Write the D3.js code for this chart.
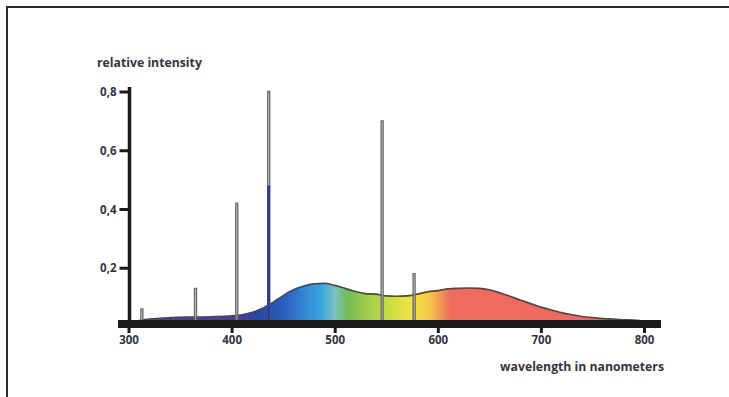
<!DOCTYPE html>
<html>
<head>
<meta charset="utf-8">
<script src="https://cdn.jsdelivr.net/npm/d3@7"></script>
<style>
  html, body { margin: 0; padding: 0; background: #fff; }
  svg { display: block; }
  text { font-family: "Open Sans", Lato, sans-serif; font-weight: 700; fill: #34343f; }
</style>
</head>
<body>
<svg id="chart" width="729" height="397"></svg>
<script>
// ---- data ----
const wavelengths = [310, 320, 340, 360, 380, 400, 410, 420, 430, 440, 450, 460, 470, 480, 490,
  500, 510, 520, 530, 540, 550, 560, 570, 580, 590, 600, 610, 620, 630, 640, 650, 660, 670, 680,
  690, 700, 710, 720, 730, 740, 750, 760, 770, 780, 790, 796];
const intensity = [0.02, 0.025, 0.03, 0.032, 0.033, 0.036, 0.04, 0.048, 0.062, 0.082, 0.105, 0.125,
  0.138, 0.145, 0.147, 0.14, 0.13, 0.119, 0.112, 0.11, 0.104, 0.103, 0.104, 0.11, 0.118, 0.122,
  0.128, 0.13, 0.131, 0.13, 0.125, 0.115, 0.103, 0.09, 0.078, 0.066, 0.056, 0.047, 0.04, 0.034,
  0.03, 0.027, 0.025, 0.023, 0.022, 0.02];
const lineWavelengths = [313, 365, 405, 436, 546, 577];
const linePeaks = [0.06, 0.13, 0.42, 0.80, 0.70, 0.18];
const blueLineWavelength = 436;
const blueLinePeak = 0.48;
const xTicks = [300, 400, 500, 600, 700, 800];
const yTicks = [0.2, 0.4, 0.6, 0.8];
const yTickLabels = ["0,2", "0,4", "0,6", "0,8"];
const yTitle = "relative intensity";
const xTitle = "wavelength in nanometers";

// colour stops of the visible spectrum (wavelength, colour)
const stopWl = [300, 400, 425, 450, 470, 488, 500, 512, 530, 552, 575, 592, 602, 612, 800];
const stopCol = ["#5a3c8c", "#4a3f98", "#2a46a6", "#2a5cbc", "#3585d4", "#3ca6df", "#7cc3c6",
  "#72bb5c", "#9ccb4c", "#c8dc46", "#f2e343", "#f4c84a", "#f29c52", "#ee6d5e", "#ee6760"];

// ---- layout ----
const svg = d3.select("#chart");
const x = d3.scaleLinear().domain([300, 800]).range([128.5, 644]);
const y = d3.scaleLinear().domain([0, 0.8]).range([326.5, 91.5]);

function fitWidth(sel, target) {
  const node = sel.node();
  const fs = parseFloat(sel.attr("font-size"));
  const w = node.getComputedTextLength();
  if (w > 0) sel.attr("font-size", (fs * target / w).toFixed(2));
}

// frame
svg.append("line").attr("x1", 6).attr("x2", 729).attr("y1", 7).attr("y2", 7)
  .attr("stroke", "#2a2a2a").attr("stroke-width", 2);
svg.append("line").attr("x1", 7).attr("x2", 7).attr("y1", 6).attr("y2", 397)
  .attr("stroke", "#2a2a2a").attr("stroke-width", 2);

// gradient
const defs = svg.append("defs");
const grad = defs.append("linearGradient").attr("id", "spec")
  .attr("gradientUnits", "userSpaceOnUse")
  .attr("x1", x(300)).attr("x2", x(800)).attr("y1", 0).attr("y2", 0);
stopWl.forEach((w, i) => {
  grad.append("stop").attr("offset", (w - 300) / 500).attr("stop-color", stopCol[i]);
});

const pts = wavelengths.map((w, i) => [w, intensity[i]]);
const area = d3.area().x(d => x(d[0])).y0(y(0)).y1(d => y(d[1])).curve(d3.curveMonotoneX);
const line = d3.line().x(d => x(d[0])).y(d => y(d[1])).curve(d3.curveMonotoneX);

svg.append("path").datum(pts).attr("d", area).attr("fill", "url(#spec)");
svg.append("path").datum(pts).attr("d", line).attr("fill", "none")
  .attr("stroke", "#4a4a4a").attr("stroke-width", 1.7);

// emission lines
lineWavelengths.forEach((w, i) => {
  const p = linePeaks[i];
  const hw = 1.0;
  const path = d3.path();
  path.moveTo(x(w - hw), y(0));
  path.lineTo(x(w - hw), y(p));
  path.lineTo(x(w + hw), y(p));
  path.lineTo(x(w + hw), y(0));
  svg.append("path").attr("d", path.toString())
    .attr("fill", "#b8b8b8").attr("fill-opacity", 0.7)
    .attr("stroke", "#6a6a6a").attr("stroke-width", 1.3);
});
// blue core of the 436 nm line
svg.append("rect")
  .attr("x", x(blueLineWavelength - 1.4)).attr("width", x(blueLineWavelength + 1.4) - x(blueLineWavelength - 1.4))
  .attr("y", y(blueLinePeak)).attr("height", y(0) - y(blueLinePeak))
  .attr("fill", "#2c3f8e");

// y axis
const yAxis = d3.axisLeft(y).tickValues(yTicks).tickFormat((d, i) => yTickLabels[i])
  .tickSize(10).tickPadding(3);
const gy = svg.append("g").attr("transform", "translate(129.5,0)").call(yAxis);
gy.select(".domain").remove();
gy.selectAll(".tick line").attr("stroke", "#1a1a1a").attr("stroke-width", 3);
gy.selectAll(".tick text").attr("font-size", 11.5).attr("dy", "0.36em")
  .style("font-family", "'Open Sans', sans-serif").style("font-weight", 700).attr("fill", "#34343f");
svg.append("line").attr("x1", 129.5).attr("x2", 129.5).attr("y1", 87).attr("y2", 324)
  .attr("stroke", "#1a1a1a").attr("stroke-width", 3.5);

// x axis
svg.append("rect").attr("x", 118).attr("y", 320).attr("width", 543).attr("height", 8)
  .attr("fill", "#1a1a1a");
const xAxis = d3.axisBottom(x).tickValues(xTicks).tickFormat(d3.format("d"))
  .tickSize(6).tickPadding(3);
const gx = svg.append("g").attr("transform", "translate(0,327)").call(xAxis);
gx.select(".domain").remove();
gx.selectAll(".tick line").attr("stroke", "#1a1a1a").attr("stroke-width", 3);
gx.selectAll(".tick text").attr("font-size", 11.5)
  .style("font-family", "'Open Sans', sans-serif").style("font-weight", 700).attr("fill", "#34343f");

// titles
const t1 = svg.append("text").attr("x", 97).attr("y", 67).attr("font-size", 11).text(yTitle);
fitWidth(t1, 105);
const t2 = svg.append("text").attr("x", 664).attr("y", 371).attr("text-anchor", "end")
  .attr("font-size", 11).text(xTitle);
fitWidth(t2, 164);
</script>
</body>
</html>
